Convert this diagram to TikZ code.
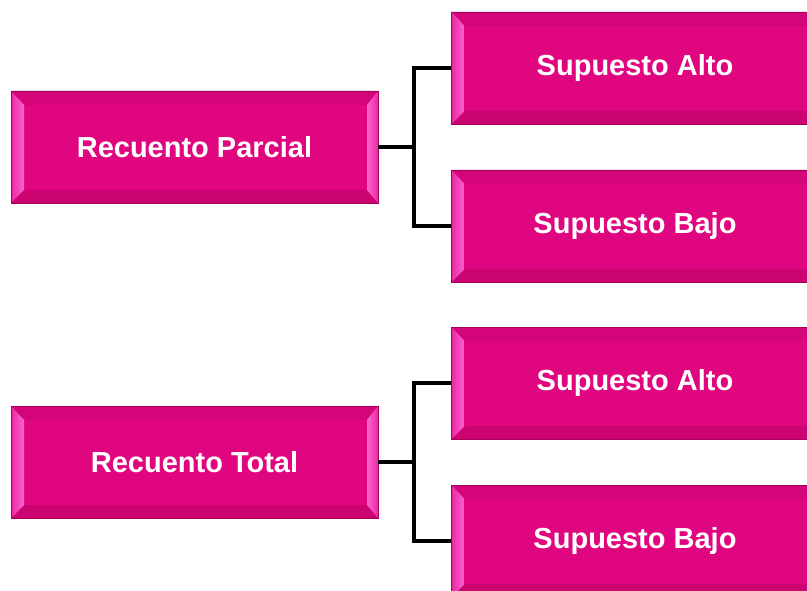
\documentclass[tikz,border=0pt]{standalone}
\usepackage{fontspec}
\setmainfont{Liberation Sans}
\usetikzlibrary{calc}
\definecolor{mainc}{RGB}{224,6,128}
\definecolor{topc}{RGB}{212,4,121}
\definecolor{botc}{RGB}{204,4,114}
\definecolor{sidec}{RGB}{252,100,210}
\definecolor{sidec2}{RGB}{235,40,160}
\definecolor{edgec}{RGB}{165,0,88}
\tikzset{
  bevelbox/.style={draw=edgec, line width=0.8pt, fill=mainc,
    minimum width=367pt, minimum height=112pt, inner sep=0pt,
    text=white, font=\bfseries\fontsize{29}{32}\selectfont,
    path picture={
      \coordinate (pnw) at (path picture bounding box.north west);
      \coordinate (pne) at (path picture bounding box.north east);
      \coordinate (psw) at (path picture bounding box.south west);
      \coordinate (pse) at (path picture bounding box.south east);
      \coordinate (inw) at ($(pnw)+(13pt,-14pt)$);
      \coordinate (ine) at ($(pne)+(-11pt,-14pt)$);
      \coordinate (isw) at ($(psw)+(13pt,13pt)$);
      \coordinate (ise) at ($(pse)+(-11pt,13pt)$);
      \fill[topc] (pnw) -- (pne) -- (ine) -- (inw) -- cycle;
      \fill[botc] (psw) -- (pse) -- (ise) -- (isw) -- cycle;
      \shade[left color=sidec2, right color=sidec] (pnw) -- (inw) -- (isw) -- (psw) -- cycle;
      \shade[left color=sidec, right color=sidec2] (pne) -- (ine) -- (ise) -- (pse) -- cycle;
    }},
  conn/.style={line width=3.5pt, black}
}
\begin{document}
\begin{tikzpicture}[x=1pt,y=-1pt]
\clip (0,0) rectangle (807,591);
\fill[white] (0,0) rectangle (807,591);
\node[bevelbox] (rp) at (194.5,147) {Recuento Parcial};
\node[bevelbox] (rt) at (194.5,462) {Recuento Total};
\node[bevelbox] (sa1) at (635,68) {Supuesto Alto};
\node[bevelbox] (sb1) at (635,226) {Supuesto Bajo};
\node[bevelbox] (sa2) at (635,383) {Supuesto Alto};
\node[bevelbox] (sb2) at (635,541) {Supuesto Bajo};
\coordinate (j1) at (414,147);
\coordinate (j2) at (414,462);
\draw[conn] (rp.east) -- (j1);
\draw[conn] (j1) |- (sa1.west);
\draw[conn] (j1) |- (sb1.west);
\draw[conn] (rt.east) -- (j2);
\draw[conn] (j2) |- (sa2.west);
\draw[conn] (j2) |- (sb2.west);
\end{tikzpicture}
\end{document}
